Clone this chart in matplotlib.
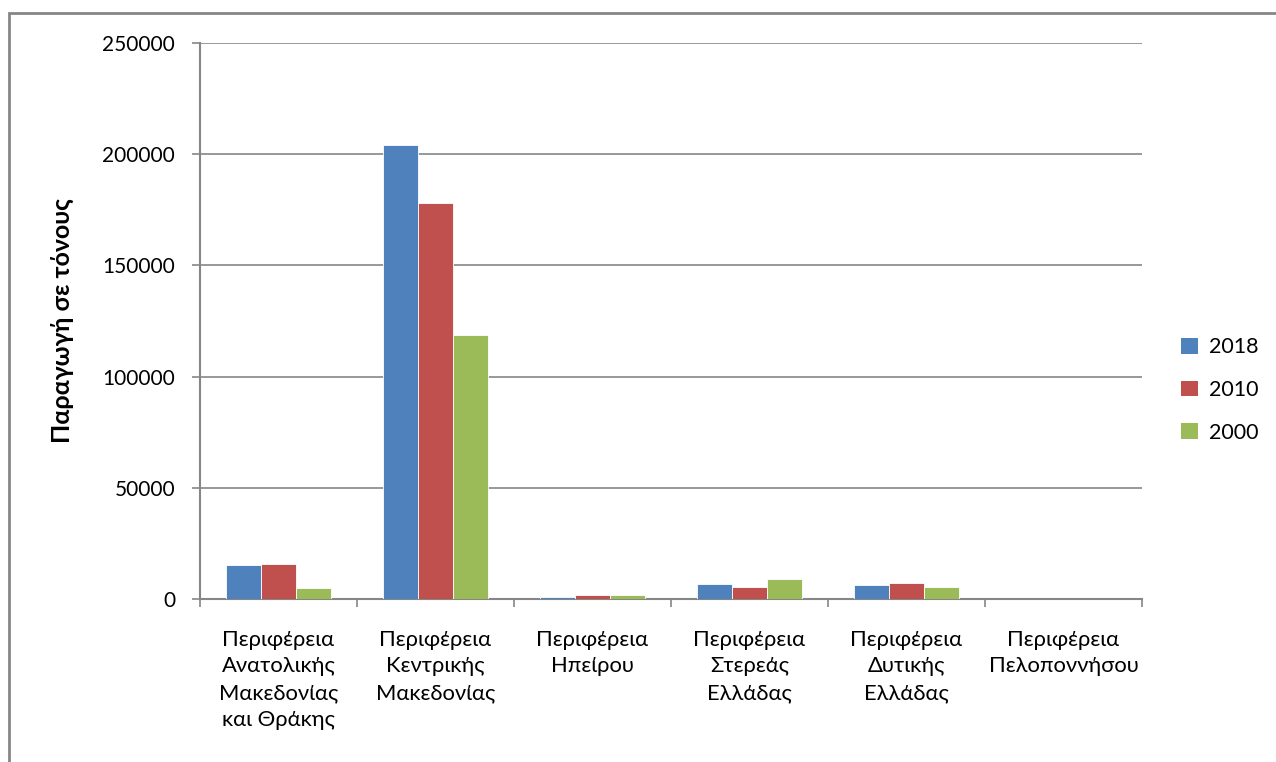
import matplotlib
matplotlib.use("Agg")
import matplotlib.pyplot as plt
from matplotlib.patches import Rectangle, Patch
import numpy as np

plt.rcParams['font.family'] = ['Lato', 'DejaVu Sans']

categories = ["Περιφέρεια\nΑνατολικής\nΜακεδονίας\nκαι Θράκης",
              "Περιφέρεια\nΚεντρικής\nΜακεδονίας",
              "Περιφέρεια\nΗπείρου",
              "Περιφέρεια\nΣτερεάς\nΕλλάδας",
              "Περιφέρεια\nΔυτικής\nΕλλάδας",
              "Περιφέρεια\nΠελοποννήσου"]
series_names = ["2018", "2010", "2000"]
v2018 = [15300, 204000, 900, 6700, 6400, 0]
v2010 = [15900, 178000, 2000, 5400, 7000, 0]
v2000 = [4900, 118700, 1800, 9000, 5200, 0]
colors = ["#4F81BD", "#C0504D", "#9BBB59"]
yticks = [0, 50000, 100000, 150000, 200000, 250000]

W, H = 1276, 762
fig = plt.figure(figsize=(W/100, H/100), dpi=100)
ax = fig.add_axes([200/W, 1-599/H, (1142-200)/W, (599-43)/H])

n = len(categories)
x = np.arange(n)
bw = 1/4.5
for i, (vals, c, name) in enumerate(zip([v2018, v2010, v2000], colors, series_names)):
    ax.bar(x + (i-1)*bw, vals, width=bw, color=c, label=name, zorder=3,
           edgecolor='white', linewidth=0.6)

ax.set_xlim(-0.5, n-0.5)
ax.set_ylim(0, 250000)
ax.set_yticks(yticks)
ax.set_yticklabels([str(t) for t in yticks], fontsize=15)
ax.yaxis.grid(True, color='#868686', linewidth=1.2, zorder=0)
ax.set_xticks(np.arange(-0.5, n, 1.0))
ax.set_xticklabels([])
ax.set_xticks(x, minor=True)
ax.set_xticklabels(categories, minor=True, fontsize=15.8, linespacing=1.42)
ax.tick_params(axis='x', which='minor', length=0, pad=22)
ax.tick_params(axis='x', which='major', length=6, width=1.2, color='#868686', direction='out')
ax.tick_params(axis='y', length=6, width=1.2, color='#868686', direction='out', pad=12)
for s in ['top', 'right']:
    ax.spines[s].set_visible(False)
for s in ['left', 'bottom']:
    ax.spines[s].set_color('#868686')
    ax.spines[s].set_linewidth(1.5)

ax.set_ylabel("Παραγωγή σε τόνους", fontsize=18, fontweight='bold', labelpad=20)

handles = [Patch(facecolor=c, label=nm) for c, nm in zip(colors, series_names)]
fig.legend(handles=handles, loc='center left', bbox_to_anchor=(1162/W, 1-390/H),
           frameon=False, fontsize=15.5, handlelength=0.75, handleheight=0.75,
           handletextpad=0.55, labelspacing=1.05)

fig.add_artist(Rectangle((8.5/W, -0.1), 1.2, 1-12.5/H+0.1, transform=fig.transFigure,
                         fill=False, edgecolor='#868686', linewidth=2))

fig.savefig("out.png", dpi=100)
